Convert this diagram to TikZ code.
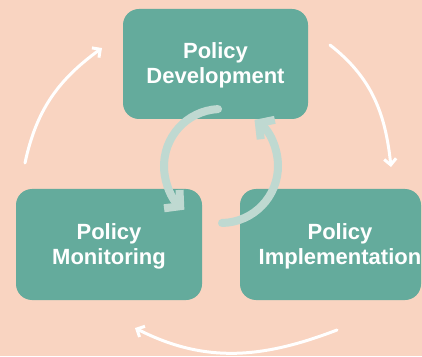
\documentclass[tikz,border=0pt]{standalone}
\usepackage{fontspec}
\setmainfont{Liberation Sans}
\usetikzlibrary{arrows.meta}
\definecolor{bgpeach}{HTML}{F9D4C1}
\definecolor{boxteal}{HTML}{64AB9C}
\definecolor{innerc}{HTML}{BFD9D1}
\begin{document}
\begin{tikzpicture}[x=1pt,y=1pt,
  box/.style={rectangle, rounded corners=16pt, fill=boxteal, inner sep=0pt},
  lbl/.style={text=white, font=\bfseries\fontsize{22}{25}\selectfont, align=center, inner sep=0pt},
  cyc/.style={white, line width=3pt, line cap=round, -{Straight Barb[length=6pt,width=12pt]}},
  innerarrow/.style={innerc, line width=8pt, line cap=round, -{Straight Barb[length=11pt,width=24pt,sharp]}}]
\fill[bgpeach] (0,0) rectangle (422,356);
\useasboundingbox (0,0) rectangle (422,356);
% boxes
\node[box, minimum width=185pt, minimum height=110pt] (dev) at (215.5,292) {};
\node[box, minimum width=186pt, minimum height=111pt] (mon) at (109,111.5) {};
\node[box, minimum width=181pt, minimum height=111pt] (impl) at (330.5,111.5) {};
% labels
\node[lbl] (devtext) at (215.5,290.2) {Policy\\Development};
\node[lbl] (montext) at (109,109.2) {Policy\\Monitoring};
\node[lbl] (impltext) at (340,109.2) {Policy\\Implementation};
% inner circular arrows
\coordinate (c) at (221,190);
\draw[innerarrow] ([shift={(93:57)}]c) arc[start angle=93, end angle=230, radius=57];
\draw[innerarrow] ([shift={(-89:57)}]c) arc[start angle=-89, end angle=54, radius=57];
% outer cycle arrows
\coordinate (a1s) at (25,193);
\coordinate (a1e) at (102,308);
\coordinate (a2s) at (330,311);
\coordinate (a2e) at (391,189);
\coordinate (a3s) at (337,26);
\coordinate (a3e) at (135,28);
\draw[cyc] (a1s) to[out=78, in=216] (a1e);
\draw[cyc] (a2s) to[out=-38, in=96] (a2e);
\draw[cyc] (a3s) to[out=201, in=-27] (a3e);
\end{tikzpicture}
\end{document}
